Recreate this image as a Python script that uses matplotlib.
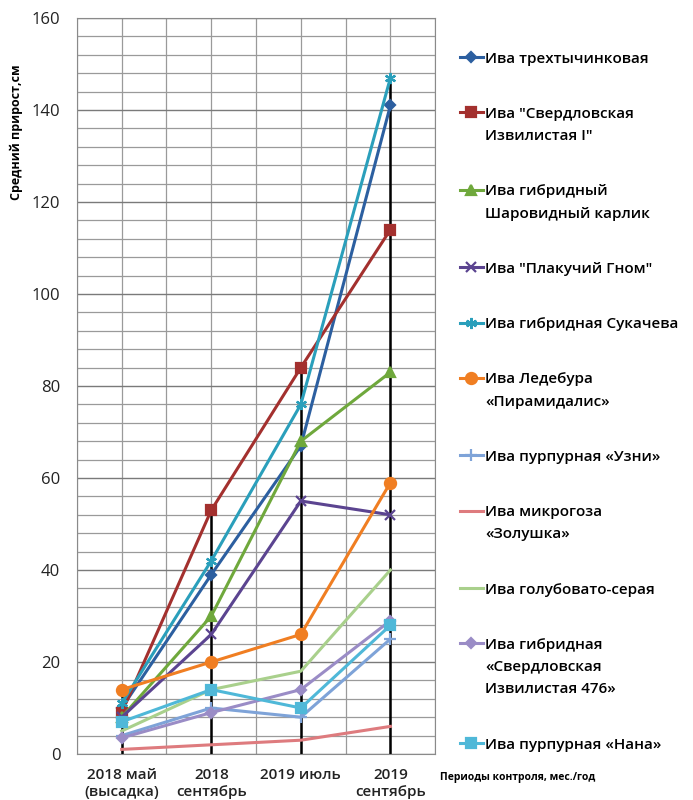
import matplotlib.pyplot as plt
import numpy as np

plt.rcParams['font.family'] = ['Open Sans', 'DejaVu Sans']

# periods of measurement
periods = ['2018 май\n(высадка)', '2018\nсентябрь', '2019 июль', '2019\nсентябрь']

# willow varieties
names = [
    'Ива трехтычинковая',
    'Ива "Свердловская\nИзвилистая I"',
    'Ива гибридный\nШаровидный карлик',
    'Ива "Плакучий Гном"',
    'Ива гибридная Сукачева',
    'Ива Ледебура\n«Пирамидалис»',
    'Ива пурпурная «Узни»',
    'Ива микрогоза\n«Золушка»',
    'Ива голубовато-серая',
    'Ива гибридная\n«Свердловская\nИзвилистая 476»',
    'Ива пурпурная «Нана»',
]

# average growth, cm
trekh = [10, 39, 67, 141]
sverd1 = [9, 53, 84, 114]
sharov = [8, 30, 68, 83]
plakuch = [8, 26, 55, 52]
sukach = [11, 42, 76, 147]
ledebur = [14, 20, 26, 59]
uzni = [4, 10, 8, 25]
zolush = [1, 2, 3, 6]
golub = [5, 14, 18, 40]
sverd476 = [3.5, 9, 14, 29]
nana = [7, 14, 10, 28]

series = [trekh, sverd1, sharov, plakuch, sukach, ledebur, uzni, zolush, golub, sverd476, nana]
colors = ['#2c5fa0', '#a3302e', '#6fa83c', '#5b4490', '#2a9fbb', '#f07e22',
          '#7ea3d8', '#de7b7e', '#a9d08c', '#9a8cc6', '#4fb8d8']
markers = ['D', 's', '^', 'x', (6, 2, 0), 'o', '+', '', '', 'D', 's']
msizes = [5, 7, 7, 7, 8, 8, 8, 0, 0, 5, 7]

x = np.arange(1, len(periods) + 1)

fig = plt.figure(figsize=(6.93, 8), dpi=100)
ax = fig.add_axes([0.111, 0.0575, 0.517, 0.92])

# grid
ax.set_xlim(0.5, 4.5)
ax.set_ylim(0, 160)
ax.set_xticks(np.arange(0.5, 4.51, 0.5), minor=True)
ax.set_yticks(np.arange(0, 161, 4), minor=True)
ax.grid(True, which='both', color='#9a9a9a', linewidth=0.9)
ax.grid(True, which='major', axis='y', color='#7a7a7a', linewidth=1.0)
ax.set_axisbelow(True)
for s in ax.spines.values():
    s.set_color('#8a8a8a')

# drop lines from the axis up to the highest value of each period
tops = np.max(np.array(series), axis=0)
ax.vlines(x, 0, tops, color='black', linewidth=1.8, zorder=1.5)

for vals, name, c, m, ms in zip(series, names, colors, markers, msizes):
    ax.plot(x, vals, color=c, linewidth=2.2, marker=m, markersize=ms,
            markeredgewidth=1.6, label=name, zorder=2)

ax.set_xticks(x)
ax.set_xticklabels(periods, fontsize=11, fontweight='semibold', color='#222222',
                   linespacing=1.3)
ax.set_yticks(np.arange(0, 161, 20))
ax.tick_params(axis='y', labelsize=12, colors='#222222', length=0, pad=12)
ax.tick_params(axis='x', length=0, pad=10)
ax.tick_params(which='minor', length=0)

ax.set_ylabel('Средний прирост,см', fontsize=9, fontweight='bold')
ax.yaxis.set_label_coords(-0.15, 0.845)
ax.set_xlabel('Периоды контроля, мес./год', fontsize=7.5, fontweight='bold', ha='left')
ax.xaxis.set_label_coords(1.012, -0.024)

leg = fig.legend(loc='upper left', bbox_to_anchor=(0.655, 0.943), frameon=False,
                 fontsize=11, handlelength=1.5, handletextpad=0.15,
                 labelspacing=2.7, borderaxespad=0)
for t in leg.get_texts():
    t.set_fontweight('semibold')
    t.set_linespacing(1.75)
# keep each legend line next to the first line of its label
for col in leg._legend_handle_box.get_children():
    for item in col.get_children():
        item.align = 'top'

plt.savefig('out.png', dpi=100)
